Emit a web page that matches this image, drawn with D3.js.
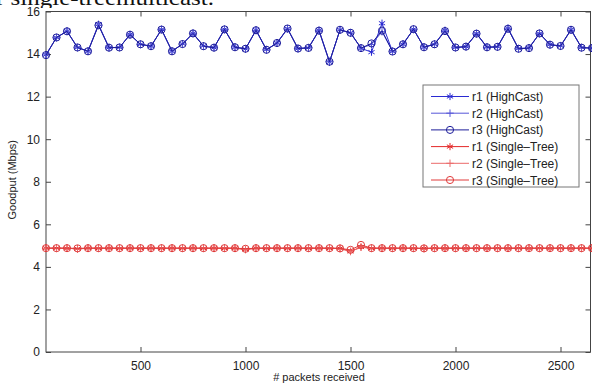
<!DOCTYPE html>
<html>
<head>
<meta charset="utf-8">
<script src="https://cdn.jsdelivr.net/npm/d3@7"></script>
<style>
  body { margin: 0; background: #fff; }
  text { font-family: "Liberation Sans", Arial, sans-serif; fill: #222; }
</style>
</head>
<body>
<svg width="592" height="385"></svg>
<script>
// packets received (x values)
var packets = [50, 100, 150, 200, 250, 300, 350, 400, 450, 500,
  550, 600, 650, 700, 750, 800, 850, 900, 950, 1000,
  1050, 1100, 1150, 1200, 1250, 1300, 1350, 1400, 1450, 1500,
  1550, 1600, 1650, 1700, 1750, 1800, 1850, 1900, 1950, 2000,
  2050, 2100, 2150, 2200, 2250, 2300, 2350, 2400, 2450, 2500,
  2550, 2600, 2650];

// HighCast goodput
var r1High = [13.97, 14.78, 15.08, 14.31, 14.13, 15.40, 14.30, 14.31, 14.92, 14.46,
  14.37, 15.16, 14.13, 14.48, 14.98, 14.38, 14.30, 15.17, 14.32, 14.24,
  15.13, 14.21, 14.52, 15.20, 14.26, 14.29, 15.12, 13.62, 15.14, 15.00,
  14.27, 14.09, 15.45, 14.12, 14.46, 15.17, 14.32, 14.46, 15.12, 14.31,
  14.35, 14.97, 14.33, 14.34, 15.22, 14.26, 14.29, 14.97, 14.45, 14.38,
  15.15, 14.31, 14.28];
var r2High = [13.96, 14.77, 15.07, 14.30, 14.14, 15.36, 14.31, 14.31, 14.91, 14.45,
  14.37, 15.15, 14.14, 14.47, 14.97, 14.37, 14.31, 15.15, 14.33, 14.25,
  15.11, 14.20, 14.51, 15.18, 14.26, 14.30, 15.10, 13.64, 15.13, 14.99,
  14.28, 14.45, 15.05, 14.13, 14.47, 15.16, 14.33, 14.47, 15.09, 14.30,
  14.35, 14.95, 14.31, 14.33, 15.19, 14.25, 14.28, 14.96, 14.44, 14.37,
  15.13, 14.30, 14.28];
var r3High = [13.95, 14.78, 15.07, 14.31, 14.13, 15.35, 14.30, 14.31, 14.91, 14.46,
  14.37, 15.15, 14.13, 14.47, 14.97, 14.37, 14.30, 15.16, 14.32, 14.25,
  15.12, 14.20, 14.52, 15.20, 14.26, 14.29, 15.10, 13.64, 15.14, 15.00,
  14.28, 14.50, 15.10, 14.12, 14.46, 15.17, 14.32, 14.46, 15.08, 14.31,
  14.35, 14.96, 14.32, 14.34, 15.19, 14.25, 14.28, 14.97, 14.44, 14.38,
  15.14, 14.30, 14.28];

// Single-Tree goodput
var r1Single = [4.88, 4.88, 4.87, 4.85, 4.88, 4.87, 4.88, 4.87, 4.88, 4.87,
  4.88, 4.87, 4.88, 4.87, 4.88, 4.87, 4.88, 4.87, 4.88, 4.82,
  4.88, 4.87, 4.88, 4.87, 4.88, 4.87, 4.88, 4.87, 4.87, 4.73,
  4.93, 4.87, 4.88, 4.87, 4.88, 4.87, 4.87, 4.88, 4.87, 4.88,
  4.87, 4.88, 4.87, 4.88, 4.87, 4.88, 4.87, 4.88, 4.87, 4.88,
  4.87, 4.88, 4.87];
var r2Single = [4.87, 4.87, 4.88, 4.84, 4.87, 4.88, 4.87, 4.88, 4.87, 4.88,
  4.87, 4.88, 4.87, 4.88, 4.87, 4.88, 4.87, 4.88, 4.87, 4.81,
  4.87, 4.88, 4.87, 4.88, 4.87, 4.88, 4.87, 4.88, 4.86, 4.72,
  4.92, 4.88, 4.87, 4.88, 4.87, 4.88, 4.86, 4.87, 4.88, 4.87,
  4.88, 4.87, 4.88, 4.87, 4.88, 4.87, 4.88, 4.87, 4.88, 4.87,
  4.88, 4.87, 4.88];
var r3Single = [4.88, 4.88, 4.88, 4.87, 4.88, 4.88, 4.88, 4.88, 4.88, 4.88,
  4.88, 4.88, 4.88, 4.88, 4.88, 4.88, 4.88, 4.88, 4.88, 4.85,
  4.88, 4.88, 4.88, 4.88, 4.88, 4.88, 4.88, 4.88, 4.87, 4.80,
  5.03, 4.88, 4.88, 4.88, 4.88, 4.88, 4.87, 4.88, 4.88, 4.88,
  4.88, 4.88, 4.88, 4.88, 4.88, 4.88, 4.88, 4.88, 4.88, 4.88,
  4.88, 4.88, 4.88];

var xTicks = [500, 1000, 1500, 2000, 2500];
var yTicks = [0, 2, 4, 6, 8, 10, 12, 14, 16];

var seriesNames = ["r1 (HighCast)", "r2 (HighCast)", "r3 (HighCast)",
  "r1 (Single\u2013Tree)", "r2 (Single\u2013Tree)", "r3 (Single\u2013Tree)"];

var series = [
  { name: seriesNames[0], values: r1High, color: "#2a2ad2", marker: "star" },
  { name: seriesNames[1], values: r2High, color: "#5656d8", marker: "plus" },
  { name: seriesNames[2], values: r3High, color: "#1c1c9a", marker: "circle" },
  { name: seriesNames[3], values: r1Single, color: "#e42828", marker: "star" },
  { name: seriesNames[4], values: r2Single, color: "#ec6a6a", marker: "plus" },
  { name: seriesNames[5], values: r3Single, color: "#e03a3a", marker: "circle" }
];

var svg = d3.select("svg");

var plotLeft = 46, plotRight = 592, plotTop = 11.5, plotBottom = 352;

var x = d3.scaleLinear().domain([50, 2650]).range([plotLeft, plotRight]);
var y = d3.scaleLinear().domain([0, 16]).range([plotBottom, plotTop]);

// cut-off caption line from the paper above the figure
svg.append("clipPath")
    .attr("id", "caption-clip")
  .append("rect")
    .attr("x", 0).attr("y", 0).attr("width", 592).attr("height", 8);

svg.append("text")
    .attr("x", -4)
    .attr("y", 5)
    .attr("clip-path", "url(#caption-clip)")
    .attr("textLength", 218)
    .attr("lengthAdjust", "spacingAndGlyphs")
    .style("font-family", "'Liberation Serif', 'Times New Roman', serif")
    .style("font-size", "22px")
    .style("fill", "#111")
    .text("r single-treemulticast.");

// axes, ticks pointing inward
var gx = svg.append("g")
    .attr("transform", "translate(0," + plotBottom + ")")
    .call(d3.axisBottom(x).tickValues(xTicks).tickFormat(d3.format("d"))
      .tickSizeInner(-5).tickSizeOuter(0).tickPadding(9));
var gy = svg.append("g")
    .attr("transform", "translate(" + plotLeft + ",0)")
    .call(d3.axisLeft(y).tickValues(yTicks).tickSizeInner(-5).tickSizeOuter(0).tickPadding(6));
var gxt = svg.append("g")
    .attr("transform", "translate(0," + plotTop + ")")
    .call(d3.axisTop(x).tickValues(xTicks).tickSizeInner(-5).tickSizeOuter(0).tickFormat(""));
var gyr = svg.append("g")
    .attr("transform", "translate(" + (plotRight - 1.5) + ",0)")
    .call(d3.axisRight(y).tickValues(yTicks).tickSizeInner(-5).tickSizeOuter(0).tickFormat(""));

[gx, gy, gxt, gyr].forEach(function(g) {
  g.select(".domain").remove();
  g.selectAll("line").attr("stroke", "#444");
  g.selectAll("text").style("font-size", "12px").style("fill", "#222")
    .style("font-family", "'Liberation Sans', Arial, sans-serif");
});

svg.append("rect")
    .attr("x", plotLeft).attr("y", plotTop)
    .attr("width", plotRight - plotLeft - 1.5).attr("height", plotBottom - plotTop)
    .attr("fill", "none")
    .attr("stroke", "#444")
    .attr("stroke-width", 1);

svg.append("text")
    .attr("x", 319)
    .attr("y", 381)
    .attr("text-anchor", "middle")
    .style("font-size", "11px")
    .text("# packets received");

svg.append("text")
    .attr("transform", "translate(16," + ((plotTop + plotBottom) / 2 - 2) + ") rotate(-90)")
    .attr("text-anchor", "middle")
    .style("font-size", "11px")
    .text("Goodput (Mbps)");

// marker shapes
var starType = d3.symbolAsterisk || {
  draw: function(ctx, size) {
    var r = Math.sqrt(size) * 0.6;
    for (var k = 0; k < 3; k++) {
      var a = Math.PI / 2 + k * Math.PI / 3;
      ctx.moveTo(r * Math.cos(a), r * Math.sin(a));
      ctx.lineTo(-r * Math.cos(a), -r * Math.sin(a));
    }
  }
};
var plusType = {
  draw: function(ctx, size) {
    var r = Math.sqrt(size) / 2;
    ctx.moveTo(-r, 0); ctx.lineTo(r, 0);
    ctx.moveTo(0, -r); ctx.lineTo(0, r);
  }
};
var markerPath = {
  star: d3.symbol().type(starType).size(36)(),
  plus: d3.symbol().type(plusType).size(56)(),
  circle: d3.symbol().type(d3.symbolCircle).size(40)()
};

var line = d3.line()
    .x(function(d, i) { return x(packets[i]); })
    .y(function(d) { return y(d); });

var plot = svg.append("g");

series.forEach(function(s) {
  plot.append("path")
      .attr("d", line(s.values))
      .attr("fill", "none")
      .attr("stroke", s.color)
      .attr("stroke-width", 1);

  plot.selectAll(null)
      .data(s.values)
    .enter().append("path")
      .attr("transform", function(d, i) { return "translate(" + x(packets[i]) + "," + y(d) + ")"; })
      .attr("d", markerPath[s.marker])
      .attr("fill", "none")
      .attr("stroke", s.color)
      .attr("stroke-width", 1);
});

// legend
var legX = 423, legY = 85, legW = 156, legH = 102, rowH = 16.7;
var legend = svg.append("g");
legend.append("rect")
    .attr("x", legX).attr("y", legY)
    .attr("width", legW).attr("height", legH)
    .attr("fill", "#fff")
    .attr("stroke", "#777");

var item = legend.selectAll("g.item")
    .data(series)
  .enter().append("g")
    .attr("class", "item")
    .attr("transform", function(d, i) { return "translate(" + legX + "," + (legY + 11.5 + i * rowH) + ")"; });

item.append("line")
    .attr("x1", 8).attr("x2", 46)
    .attr("stroke", function(d) { return d.color; });
item.append("path")
    .attr("transform", "translate(27,0)")
    .attr("d", function(d) { return markerPath[d.marker]; })
    .attr("fill", "none")
    .attr("stroke", function(d) { return d.color; });
item.append("text")
    .attr("x", 49)
    .attr("y", 4.5)
    .style("font-size", "12px")
    .text(function(d) { return d.name; });
</script>
</body>
</html>
